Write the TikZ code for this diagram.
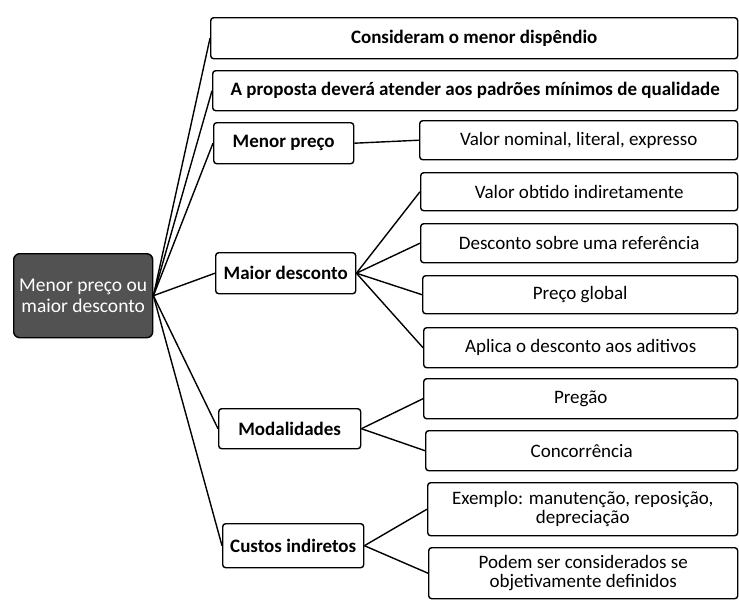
\documentclass[tikz,border=0pt]{standalone}
\usepackage{fontspec}
\setmainfont{Carlito}
\begin{document}
\begin{tikzpicture}[x=1pt,y=-1pt,
  box/.style={draw=black,line width=1.4pt,rounded corners=3pt,fill=white,anchor=north west,inner sep=0pt,align=center,font=\fontsize{19}{18.5}\selectfont},
  hub/.style={box,font=\fontsize{19}{18.5}\selectfont\bfseries},
  rootbox/.style={box,fill=black!68,text=white,rounded corners=6pt,font=\fontsize{19.5}{21}\selectfont},
  link/.style={line width=1.4pt,black}]
\useasboundingbox (0,0) rectangle (739,600);
\node[rootbox,minimum width=139pt,minimum height=84pt] (root) at (13,253) {Menor preço ou\\maior desconto};
\node[hub,minimum width=527pt,minimum height=41pt] (c1) at (210,17) {Consideram o menor dispêndio};
\node[hub,minimum width=525pt,minimum height=40pt] (c2) at (212,70) {A proposta deverá atender aos padrões mínimos de qualidade};
\node[hub,minimum width=140pt,minimum height=41pt] (mp) at (213,122) {Menor preço};
\node[hub,minimum width=140pt,minimum height=41pt] (md) at (215,252) {Maior desconto};
\node[hub,minimum width=142pt,minimum height=40pt] (mo) at (218,408) {Modalidades};
\node[hub,minimum width=141pt,minimum height=44pt] (ci) at (222,523) {Custos indiretos};
\node[box,minimum width=318pt,minimum height=39pt] (l1) at (419,120) {Valor nominal, literal, expresso};
\node[box,minimum width=317pt,minimum height=38pt] (l2) at (420,172) {Valor obtido indiretamente};
\node[box,minimum width=317pt,minimum height=39pt] (l3) at (420,223) {Desconto sobre uma referência};
\node[box,minimum width=315pt,minimum height=38pt] (l4) at (422,275) {Preço global};
\node[box,minimum width=314pt,minimum height=40pt] (l5) at (423,327) {Aplica o desconto aos aditivos};
\node[box,minimum width=314pt,minimum height=40pt] (l6) at (423,378) {Pregão};
\node[box,minimum width=312pt,minimum height=40pt] (l7) at (425,430) {Concorrência};
\node[box,minimum width=310pt,minimum height=53pt] (l8) at (427,482) {Exemplo: manutenção, reposição,\\depreciação};
\node[box,minimum width=309pt,minimum height=51pt] (l9) at (428,547) {Podem ser considerados se\\objetivamente definidos};
\foreach \t in {c1,c2,mp,md,mo,ci} \draw[link] (root.east) -- (\t.west);
\draw[link] (mp.east) -- (l1.west);
\foreach \t in {l2,l3,l4,l5} \draw[link] (md.east) -- (\t.west);
\foreach \t in {l6,l7} \draw[link] (mo.east) -- (\t.west);
\foreach \t in {l8,l9} \draw[link] (ci.east) -- (\t.west);
\end{tikzpicture}
\end{document}
